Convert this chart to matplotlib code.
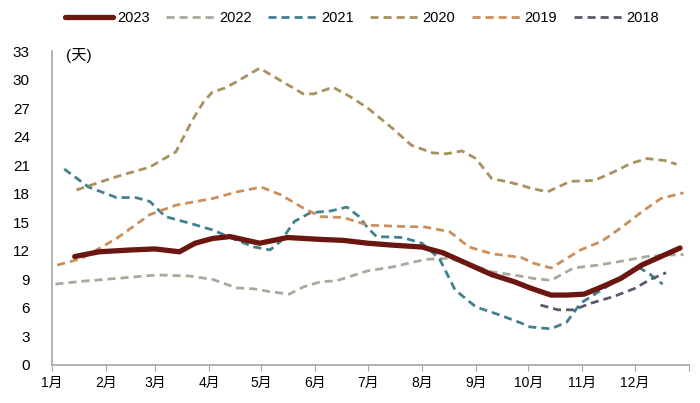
import matplotlib
matplotlib.use('Agg')
import matplotlib.pyplot as plt

plt.rcParams['font.family'] = ['Liberation Sans', 'Noto Sans CJK SC', 'DejaVu Sans']

# day of year / value (天)
day_2023 = [13, 27, 46, 59, 73, 82, 92, 102, 119, 135, 154, 167, 181, 195, 212, 224, 235, 252, 265, 274, 286, 295, 305, 315, 326, 338, 349, 360]
val_2023 = [11.4, 11.9, 12.1, 12.2, 11.9, 12.8, 13.3, 13.5, 12.8, 13.4, 13.2, 13.1, 12.8, 12.6, 12.4, 11.8, 10.9, 9.5, 8.75, 8.1, 7.35, 7.35, 7.45, 8.2, 9.1, 10.5, 11.4, 12.3]

day_2022 = [2, 17, 37, 56, 63, 79, 92, 106, 116, 125, 136, 144, 154, 163, 181, 195, 214, 226, 233, 252, 265, 276, 286, 299, 313, 326, 341, 351, 362]
val_2022 = [8.5, 8.8, 9.1, 9.4, 9.45, 9.35, 9.0, 8.1, 8.0, 7.7, 7.45, 8.2, 8.75, 8.85, 9.9, 10.3, 11.1, 11.2, 11.0, 9.8, 9.45, 9.1, 8.9, 10.2, 10.5, 10.9, 11.4, 11.55, 11.6]

day_2021 = [7, 21, 37, 48, 56, 65, 79, 92, 106, 116, 125, 131, 139, 148, 160, 169, 176, 181, 186, 201, 212, 222, 231, 243, 256, 269, 274, 286, 295, 303, 315, 326, 337, 343, 350]
val_2021 = [20.6, 18.7, 17.6, 17.6, 17.2, 15.6, 14.9, 14.2, 13.1, 12.4, 12.1, 13.0, 15.1, 16.0, 16.2, 16.6, 15.6, 14.4, 13.5, 13.4, 12.8, 11.2, 7.9, 6.1, 5.3, 4.4, 4.0, 3.8, 4.5, 6.5, 7.9, 9.1, 10.2, 9.5, 8.5]

day_2020 = [14, 37, 56, 71, 80, 87, 92, 99, 106, 119, 131, 144, 150, 161, 171, 181, 195, 206, 218, 226, 235, 243, 252, 260, 269, 274, 284, 297, 311, 322, 332, 341, 351, 358]
val_2020 = [18.4, 19.8, 20.8, 22.4, 25.6, 27.7, 28.7, 29.1, 29.8, 31.2, 29.9, 28.5, 28.5, 29.2, 28.2, 27.0, 24.9, 23.1, 22.3, 22.2, 22.5, 21.7, 19.6, 19.3, 18.9, 18.6, 18.2, 19.3, 19.4, 20.3, 21.2, 21.7, 21.5, 21.1]

day_2019 = [3, 17, 37, 56, 71, 92, 106, 120, 131, 144, 154, 167, 181, 195, 214, 228, 239, 252, 269, 276, 286, 295, 303, 315, 326, 338, 349, 362]
val_2019 = [10.5, 11.2, 13.3, 15.8, 16.8, 17.5, 18.2, 18.7, 17.9, 16.5, 15.6, 15.5, 14.7, 14.6, 14.5, 14.0, 12.4, 11.7, 11.3, 10.7, 10.2, 11.2, 12.1, 13.0, 14.4, 16.1, 17.5, 18.1]

day_2018 = [280, 290, 299, 309, 322, 334, 343, 352]
val_2018 = [6.3, 5.8, 5.8, 6.5, 7.2, 8.05, 9.0, 9.7]

month_starts = [0, 31, 59, 90, 120, 151, 181, 212, 243, 273, 304, 334, 365]
month_labels = ['1月', '2月', '3月', '4月', '5月', '6月', '7月', '8月', '9月', '10月', '11月', '12月', '']

fig = plt.figure(figsize=(7, 4.03), dpi=100)
ax = fig.add_axes([0.0743, 0.0943, 0.9097, 0.779])

dash = (2.9, 1.8)
ax.plot(day_2023, val_2023, color='#6B1610', lw=3.8, solid_capstyle='round', solid_joinstyle='round', label='2023', zorder=5)
ax.plot(day_2022, val_2022, color='#A9AA9C', lw=2, dashes=dash, label='2022')
ax.plot(day_2021, val_2021, color='#41808E', lw=2, dashes=dash, label='2021')
ax.plot(day_2020, val_2020, color='#A8915C', lw=2, dashes=dash, label='2020')
ax.plot(day_2019, val_2019, color='#CC8F5C', lw=2, dashes=dash, label='2019')
ax.plot(day_2018, val_2018, color='#575A70', lw=2, dashes=dash, label='2018')

ax.set_xlim(0, 365)
ax.set_ylim(0, 33)
ax.set_yticks(range(0, 34, 3))
ax.set_xticks(month_starts)
ax.set_xticklabels(month_labels)
ax.tick_params(axis='y', length=0, pad=16, labelsize=11)
ax.tick_params(axis='x', length=4, color='#A6A6A6', pad=4, labelsize=10)
for s in ['top', 'right']:
    ax.spines[s].set_visible(False)
for s in ['left', 'bottom']:
    ax.spines[s].set_color('#A6A6A6')
    ax.spines[s].set_linewidth(1.2)
for lab in ax.get_yticklabels():
    lab.set_horizontalalignment('right')

ax.text(0.022, 0.985, '(天)', transform=ax.transAxes, fontsize=11, va='center', ha='left')

fig.legend(loc='center', bbox_to_anchor=(0.517, 0.955), ncol=6, frameon=False,
           fontsize=10.5, handlelength=3.3, handletextpad=0.3, columnspacing=1.15)

plt.savefig('out.png', dpi=100)
